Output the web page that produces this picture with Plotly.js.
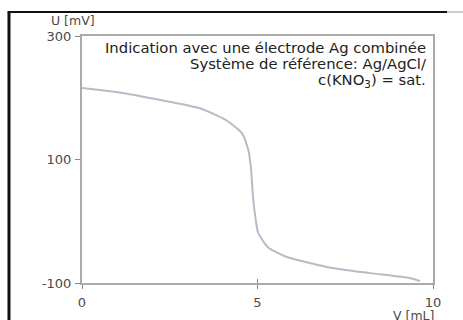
<!DOCTYPE html>
<html>
<head>
<meta charset="utf-8">
<script src="https://cdn.plot.ly/plotly-3.0.1.min.js"></script>
<style>html,body{margin:0;padding:0;background:#fff;}#chart{width:463px;height:320px;}</style>
</head>
<body>
<div id="chart"></div>
<script>
// Titration curve: volume V [mL] vs potential U [mV]
var volume = [0, 1.03, 2.17, 3.36, 4.1, 4.55, 4.74, 4.81, 4.88, 4.95, 5.02, 5.30, 5.8, 6.98, 8.2, 9.34, 9.63];
var potential = [216, 209, 197, 183, 164, 143, 115, 88, 34, 2, -19, -42, -57, -74, -84, -92, -97];
var xTicks = [0, 5, 10];
var yTicks = [-100, 100, 300];
var xLabel = 'V [mL]';
var yLabel = 'U [mV]';
var infoLines = ['Indication avec une électrode Ag combinée', 'Système de référence: Ag/AgCl/', 'c(KNO<sub>3</sub>) = sat.'];

var font = 'DejaVu Sans, Verdana, sans-serif';
var trace = {
  x: volume, y: potential, type: 'scatter', mode: 'lines',
  line: {color: '#b3bdc7', width: 2, shape: 'spline', smoothing: 0.6},
  hoverinfo: 'skip'
};
var tickFont = {family: font, size: 13, color: '#4a4a4a'};
var layout = {
  width: 463, height: 320,
  margin: {l: 82, r: 30, t: 36, b: 37},
  paper_bgcolor: '#fff', plot_bgcolor: '#fff',
  showlegend: false,
  font: {family: font, size: 12, color: '#444'},
  xaxis: {
    range: [0, 10], tickvals: xTicks, ticktext: xTicks.map(String),
    showgrid: false, zeroline: false, showline: true, mirror: true,
    linecolor: '#aaaaaa', linewidth: 2,
    ticks: 'outside', ticklen: 4, tickcolor: '#888', tickwidth: 1,
    ticklabelstandoff: 2,
    tickfont: tickFont
  },
  yaxis: {
    range: [-100, 300], tickvals: yTicks, ticktext: yTicks.map(String),
    showgrid: false, zeroline: false, showline: true, mirror: true,
    linecolor: '#aaaaaa', linewidth: 2,
    ticks: 'outside', ticklen: 5, tickcolor: '#888', tickwidth: 1,
    ticklabelstandoff: 1,
    tickfont: tickFont
  },
  xaxis2: {
    overlaying: 'x', range: [0, 10], tickvals: xTicks, showticklabels: false,
    showgrid: false, zeroline: false, showline: false,
    ticks: 'inside', ticklen: 4, tickcolor: '#888', tickwidth: 1,
    side: 'bottom', anchor: 'y'
  },
  annotations: [
    {xref: 'paper', yref: 'paper', x: -0.094, y: 1.061, xanchor: 'left', yanchor: 'middle',
     text: yLabel, showarrow: false, font: {family: font, size: 12.5, color: '#4a4a4a'}},
    {xref: 'paper', yref: 'paper', x: 1.008, y: -0.13, xanchor: 'right', yanchor: 'middle',
     text: xLabel, showarrow: false, font: {family: font, size: 12.5, color: '#4a4a4a'}}
  ],
  shapes: [
    {type: 'line', xref: 'paper', yref: 'paper', x0: -0.208, x1: -0.208, y0: 1.097, y1: -0.16,
     line: {color: '#111', width: 3}},
    {type: 'line', xref: 'paper', yref: 'paper', x0: -0.212, x1: 1.040, y0: 1.097, y1: 1.097,
     line: {color: '#111', width: 2}},
    {type: 'line', xref: 'paper', yref: 'paper', x0: 1.040, x1: 1.15, y0: 1.097, y1: 1.097,
     line: {color: '#999', width: 1}}
  ]
};
var lineY = [0.953, 0.888, 0.82];
infoLines.forEach(function (t, i) {
  layout.annotations.push({xref: 'paper', yref: 'paper', x: 0.986, y: lineY[i],
    xanchor: 'right', yanchor: 'middle', align: 'right', text: t, showarrow: false,
    font: {family: font, size: 14.8, color: '#222'}});
});
var tickTrace = {x: [0], y: [0], xaxis: 'x2', yaxis: 'y', type: 'scatter', mode: 'markers',
  marker: {opacity: 0}, hoverinfo: 'skip'};
Plotly.newPlot('chart', [trace, tickTrace], layout, {displayModeBar: false, staticPlot: true});
</script>
</body>
</html>
